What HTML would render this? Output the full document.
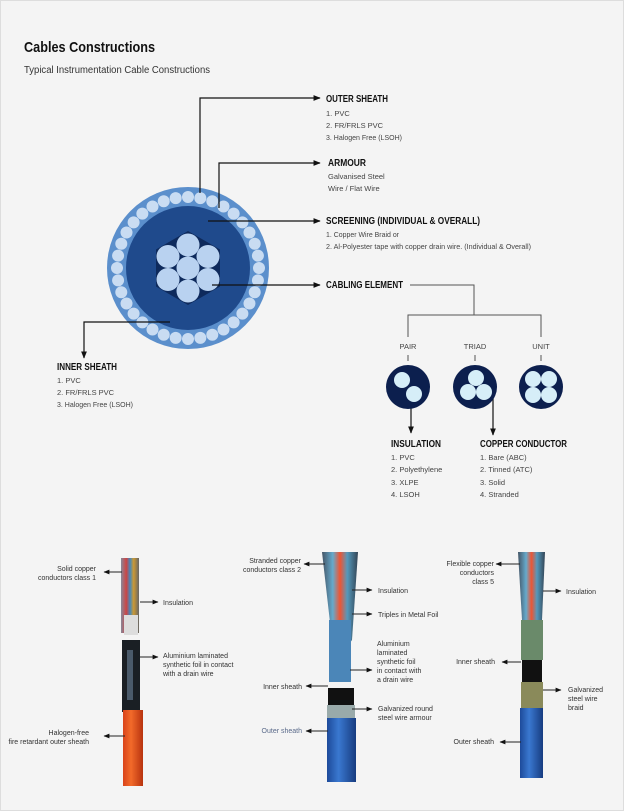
<!DOCTYPE html>
<html><head><meta charset="utf-8"><style>
html,body{margin:0;padding:0;background:#f4f4f4}
svg{display:block}
text{font-family:"Liberation Sans",sans-serif;fill:#333}
.t{font-weight:bold;font-size:10px;fill:#111}
.i{font-size:7.5px;fill:#444}
.s{font-size:7px;fill:#333}
</style></head><body>
<svg width="624" height="811" viewBox="0 0 624 811" xmlns="http://www.w3.org/2000/svg">
<defs>
<marker id="a" viewBox="0 0 10 10" refX="9" refY="5" markerWidth="6" markerHeight="6" orient="auto"><path d="M0,1 L10,5 L0,9z" fill="#111"/></marker>
<linearGradient id="org" x1="0" x2="1"><stop offset="0" stop-color="#d9431a"/><stop offset=".4" stop-color="#f26a2a"/><stop offset="1" stop-color="#b8330f"/></linearGradient>
<linearGradient id="blu" x1="0" x2="1"><stop offset="0" stop-color="#1d4a9a"/><stop offset=".4" stop-color="#3a78d0"/><stop offset="1" stop-color="#173c80"/></linearGradient>
<linearGradient id="wir" x1="0" x2="1"><stop offset="0" stop-color="#889"/><stop offset=".3" stop-color="#c44"/><stop offset=".5" stop-color="#48b"/><stop offset=".7" stop-color="#c93"/><stop offset="1" stop-color="#666"/></linearGradient>
<linearGradient id="wir2" x1="0" x2="1"><stop offset="0" stop-color="#456"/><stop offset=".3" stop-color="#6ac"/><stop offset=".5" stop-color="#e53"/><stop offset=".7" stop-color="#59b"/><stop offset="1" stop-color="#345"/></linearGradient>
</defs>
<rect x="0.5" y="0.5" width="623" height="810" fill="#f4f4f4" stroke="#ddd"/>
<text x="24" y="52" textLength="131" lengthAdjust="spacingAndGlyphs" style="font-weight:bold;font-size:15px;fill:#111">Cables Constructions</text>
<text x="24" y="73" textLength="186" lengthAdjust="spacingAndGlyphs" style="font-size:10px;fill:#333">Typical Instrumentation Cable Constructions</text>

<circle cx="188" cy="268" r="81" fill="#5b8fcc"/>
<g id="beads" fill="#c9dcf2"></g>
<circle cx="188" cy="268" r="62" fill="#1f4a8c"/>
<polygon points="188,231 220,249.5 220,286.5 188,305 156,286.5 156,249.5" fill="#0e2a5c"/>
<g fill="#b9d2f0">
<circle cx="188" cy="268" r="11.5"/><circle cx="188" cy="245" r="11.5"/><circle cx="188" cy="291" r="11.5"/>
<circle cx="168" cy="256.5" r="11.5"/><circle cx="208" cy="256.5" r="11.5"/><circle cx="168" cy="279.5" r="11.5"/><circle cx="208" cy="279.5" r="11.5"/>
</g>
<g stroke="#111" stroke-width="1.2" fill="none" marker-end="url(#a)">
<polyline points="200,193 200,98 320,98"/>
<polyline points="219,208 219,163 320,163"/>
<polyline points="208,221 320,221"/>
<polyline points="212,285 320,285"/>
<polyline points="170,322 84,322 84,358"/>
<polyline points="411,395 411,433"/>
<polyline points="493,395 493,435"/>
</g>
<g stroke="#555" stroke-width="1" fill="none">
<polyline points="410,285 474,285 474,315"/>
<polyline points="408,337 408,315 541,315 541,337"/>
<line x1="408" y1="355" x2="408" y2="361"/><line x1="475" y1="355" x2="475" y2="361"/><line x1="541" y1="355" x2="541" y2="361"/>
</g>
<text class="t" x="326" y="102" textLength="62" lengthAdjust="spacingAndGlyphs">OUTER SHEATH</text>
<text class="i" x="326" y="116">1. PVC</text>
<text class="i" x="326" y="128">2. FR/FRLS PVC</text>
<text class="i" x="326" y="140" textLength="76" lengthAdjust="spacingAndGlyphs">3. Halogen Free (LSOH)</text>
<text class="t" x="328" y="166" textLength="38" lengthAdjust="spacingAndGlyphs">ARMOUR</text>
<text class="i" x="328" y="179">Galvanised Steel</text>
<text class="i" x="328" y="191">Wire / Flat Wire</text>
<text class="t" x="326" y="224" textLength="154" lengthAdjust="spacingAndGlyphs">SCREENING (INDIVIDUAL &amp; OVERALL)</text>
<text class="i" x="326" y="237" textLength="73" lengthAdjust="spacingAndGlyphs">1. Copper Wire Braid or</text>
<text class="i" x="326" y="249" textLength="205" lengthAdjust="spacingAndGlyphs">2. Al-Polyester tape with copper drain wire. (Individual &amp; Overall)</text>
<text class="t" x="326" y="288" textLength="77" lengthAdjust="spacingAndGlyphs">CABLING ELEMENT</text>
<text class="t" x="57" y="370" textLength="60" lengthAdjust="spacingAndGlyphs">INNER SHEATH</text>
<text class="i" x="57" y="383">1. PVC</text>
<text class="i" x="57" y="395">2. FR/FRLS PVC</text>
<text class="i" x="57" y="407" textLength="76" lengthAdjust="spacingAndGlyphs">3. Halogen Free (LSOH)</text>
<text class="i" x="408" y="349" text-anchor="middle">PAIR</text>
<text class="i" x="475" y="349" text-anchor="middle">TRIAD</text>
<text class="i" x="541" y="349" text-anchor="middle">UNIT</text>
<circle cx="408" cy="387" r="22" fill="#0c1f4e"/>
<circle cx="475" cy="387" r="22" fill="#0c1f4e"/>
<circle cx="541" cy="387" r="22" fill="#0c1f4e"/>
<g fill="#d6eef8">
<circle cx="402" cy="380" r="8"/><circle cx="414" cy="394" r="8"/>
<circle cx="476" cy="378" r="8"/><circle cx="468" cy="392" r="8"/><circle cx="484" cy="392" r="8"/>
<circle cx="533" cy="379" r="8"/><circle cx="549" cy="379" r="8"/><circle cx="533" cy="395" r="8"/><circle cx="549" cy="395" r="8"/>
</g>
<text class="t" x="391" y="447" textLength="50" lengthAdjust="spacingAndGlyphs">INSULATION</text>
<text class="i" x="391" y="460">1. PVC</text>
<text class="i" x="391" y="472">2. Polyethylene</text>
<text class="i" x="391" y="485">3. XLPE</text>
<text class="i" x="391" y="497">4. LSOH</text>
<text class="t" x="480" y="447" textLength="87" lengthAdjust="spacingAndGlyphs">COPPER CONDUCTOR</text>
<text class="i" x="480" y="460">1. Bare (ABC)</text>
<text class="i" x="480" y="472">2. Tinned (ATC)</text>
<text class="i" x="480" y="485">3. Solid</text>
<text class="i" x="480" y="497">4. Stranded</text>

<rect x="121" y="558" width="18" height="75" fill="url(#wir)"/>
<rect x="124" y="615" width="14" height="20" fill="#ddd"/>
<rect x="122" y="640" width="18" height="72" fill="#1a1f24"/>
<rect x="127" y="650" width="6" height="50" fill="#4a5a6a"/>
<rect x="123" y="710" width="20" height="76" fill="url(#org)"/>
<path d="M322,552 L358,552 L352,640 L338,660 L332,640z" fill="url(#wir2)"/>
<rect x="329" y="620" width="22" height="62" fill="#4b86b8"/>
<rect x="328" y="688" width="26" height="20" fill="#111"/>
<rect x="327" y="705" width="28" height="14" fill="#9aa"/>
<rect x="327" y="718" width="29" height="64" fill="url(#blu)"/>
<path d="M518,552 L545,552 L542,620 L522,620z" fill="url(#wir2)"/>
<rect x="521" y="620" width="22" height="40" fill="#6a8a6a"/>
<rect x="522" y="660" width="20" height="22" fill="#111"/>
<rect x="521" y="682" width="22" height="28" fill="#8a8a5a"/>
<rect x="520" y="708" width="23" height="70" fill="url(#blu)"/>

<g stroke="#222" stroke-width="1" fill="none" marker-end="url(#a)">
<line x1="122" y1="572" x2="104" y2="572"/>
<line x1="140" y1="602" x2="158" y2="602"/>
<line x1="140" y1="657" x2="158" y2="657"/>
<line x1="125" y1="736" x2="104" y2="736"/>
<line x1="325" y1="564" x2="304" y2="564"/>
<line x1="352" y1="590" x2="372" y2="590"/>
<line x1="352" y1="614" x2="372" y2="614"/>
<line x1="350" y1="670" x2="372" y2="670"/>
<line x1="328" y1="686" x2="306" y2="686"/>
<line x1="352" y1="709" x2="372" y2="709"/>
<line x1="328" y1="731" x2="306" y2="731"/>
<line x1="520" y1="564" x2="496" y2="564"/>
<line x1="543" y1="591" x2="561" y2="591"/>
<line x1="521" y1="662" x2="502" y2="662"/>
<line x1="543" y1="690" x2="561" y2="690"/>
<line x1="521" y1="742" x2="500" y2="742"/>
</g>
<g>
<text class="s" x="96" y="571" text-anchor="end">Solid copper</text>
<text class="s" x="96" y="580" text-anchor="end">conductors class 1</text>
<text class="s" x="163" y="605">Insulation</text>
<text class="s" x="163" y="658">Aluminium laminated</text>
<text class="s" x="163" y="667">synthetic foil in contact</text>
<text class="s" x="163" y="676">with a drain wire</text>
<text class="s" x="89" y="735" text-anchor="end">Halogen-free</text>
<text class="s" x="89" y="744" text-anchor="end">fire retardant outer sheath</text>
<text class="s" x="301" y="563" text-anchor="end">Stranded copper</text>
<text class="s" x="301" y="572" text-anchor="end">conductors class 2</text>
<text class="s" x="378" y="593">Insulation</text>
<text class="s" x="378" y="617">Triples in Metal Foil</text>
<text class="s" x="377" y="646">Aluminium</text>
<text class="s" x="377" y="655">laminated</text>
<text class="s" x="377" y="664">synthetic foil</text>
<text class="s" x="377" y="673">in contact with</text>
<text class="s" x="377" y="682">a drain wire</text>
<text class="s" x="302" y="689" text-anchor="end">Inner sheath</text>
<text class="s" x="378" y="711">Galvanized round</text>
<text class="s" x="378" y="720">steel wire armour</text>
<text class="s" x="302" y="733" text-anchor="end" style="fill:#5a6a8a">Outer sheath</text>
<text class="s" x="494" y="566" text-anchor="end">Flexible copper</text>
<text class="s" x="494" y="575" text-anchor="end">conductors</text>
<text class="s" x="494" y="584" text-anchor="end">class 5</text>
<text class="s" x="566" y="594">Insulation</text>
<text class="s" x="495" y="664" text-anchor="end">Inner sheath</text>
<text class="s" x="568" y="692">Galvanized</text>
<text class="s" x="568" y="701">steel wire</text>
<text class="s" x="568" y="710">braid</text>
<text class="s" x="494" y="744" text-anchor="end">Outer sheath</text>
</g>
</svg>
<script>
var g=document.getElementById('beads'),n=36,ns='http://www.w3.org/2000/svg';
for(var k=0;k<n;k++){var t=k*2*Math.PI/n,c=document.createElementNS(ns,'circle');c.setAttribute('cx',188+71*Math.cos(t));c.setAttribute('cy',268+71*Math.sin(t));c.setAttribute('r',6);g.appendChild(c);}
</script>
</body></html>
